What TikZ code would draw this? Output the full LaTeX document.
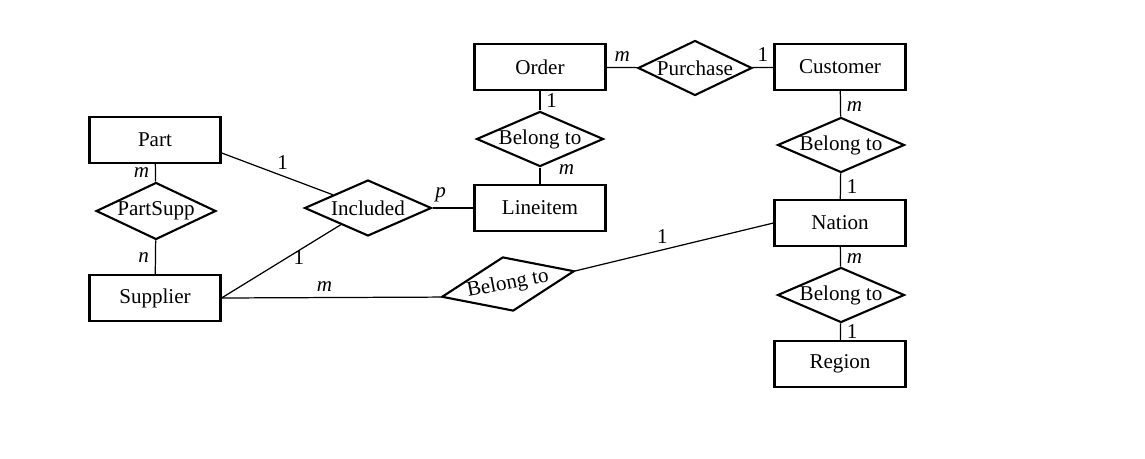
\documentclass[tikz,border=0pt]{standalone}
\usepackage{fontspec}
\setmainfont{Liberation Serif}
\usepackage{tikz}
\usetikzlibrary{shapes.geometric}
\tikzset{entity/.style={draw, line width=1.2pt, minimum width=2.62cm, minimum height=0.92cm, inner sep=0pt},
	relation/.style={diamond, draw, line width=1.2pt, minimum width=2.54cm, minimum height=1.08cm, inner sep=0pt, aspect=2.3},
	link/.style={line width=0.7pt},
	card/.style={font=\fontsize{12}{14}\selectfont\itshape}}

\begin{document}
\begin{tikzpicture}[x=0.02cm, y=-0.02cm, every node/.append style={font=\fontsize{12}{14}\selectfont}]

	\useasboundingbox (0,0) rectangle (1145,459);

	% entities
	\node (Part) at (155,140) [entity] {Part};
	\node (Supplier) at (155,298) [entity] {Supplier};
	\node (Order) at (540,67) [entity] {Order};
	\node (Lineitem) at (540,208) [entity] {Lineitem};
	\node (Customer) at (840,67) [entity] {Customer};
	\node (Nation) at (840,223) [entity] {Nation};
	\node (Region) at (840,364) [entity] {Region};

	% relationships
	\node (PartSupp) at (156,211) [relation, minimum width=2.3cm, minimum height=1.14cm] {PartSupp};
	\node (Included) at (368,208) [relation, minimum height=1.12cm] {Included};
	\node (Purchase) at (695,68) [relation, minimum width=2.28cm, minimum height=1.1cm] {Purchase};
	\node (BelongO) at (540,139) [relation] {Belong to};
	\node (BelongC) at (841,145) [relation] {Belong to};
	\node (BelongN) at (841,295) [relation, minimum height=1.04cm] {Belong to};
	\node (BelongS) at (508,284) [relation, rotate=11, minimum width=2.7cm, minimum height=1.0cm] {Belong to};

	% part and supplier
	\draw [link] (Part) -- node [left, card] {m} (PartSupp);
	\draw [link] (PartSupp) -- node [left, card] {n} (Supplier);
	\draw [link] (Part.-11) -- node [above, pos=0.55] {1} (Included);
	\draw [link] (Supplier.east) -- node [right, pos=0.55] {1} (Included);
	\draw [link] (Included) -- node [above, pos=0.2, card] {p} (Lineitem);
	\draw [link] (Supplier.east) -- node [above, pos=0.47, card] {m} (BelongS.west);
	\draw [link] (BelongS.east) -- node [above, pos=0.44] {1} (Nation.west);

	% order and customer
	\draw [link] (Order) -- node [above, card] {m} (Purchase);
	\draw [link] (Purchase) -- node [above] {1} (Customer);
	\draw [link] (Order) -- node [right] {1} (BelongO);
	\draw [link] (BelongO) -- node [right=2.5mm, pos=0.1, card] {m} (Lineitem);

	% nation chain
	\draw [link] (Customer) -- node [right, pos=0.6, card] {m} (BelongC);
	\draw [link] (BelongC) -- node [right] {1} (Nation);
	\draw [link] (Nation) -- node [right, pos=0.6, card] {m} (BelongN);
	\draw [link] (BelongN) -- node [right] {1} (Region);

\end{tikzpicture}
\end{document}
